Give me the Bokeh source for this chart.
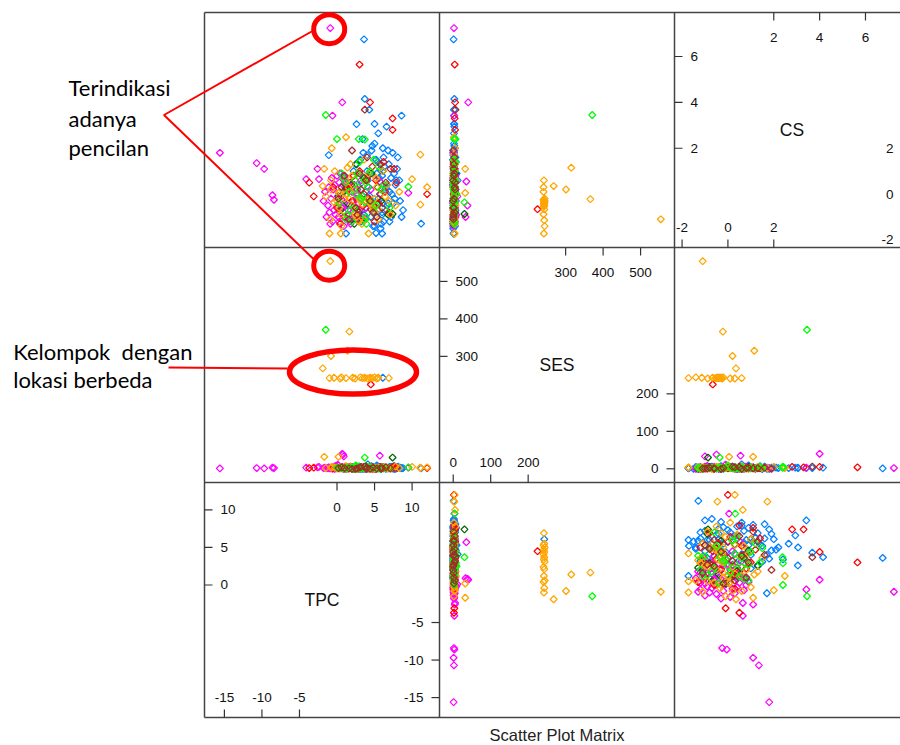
import numpy as np
from bokeh.plotting import figure
from bokeh.models import Range1d, ColumnDataSource
from bokeh.embed import file_html
from bokeh.resources import INLINE
from bokeh.core.properties import value

# ---------------- data ----------------
BLUE_TPC = [3.6, 3.7, 4.3, 8.6, 2.6, 5.0, 6.6, -1.1, 11.2, 6.0, 1.2, 5.2, 6.1, 5.5, 3.4,
            4.2, 5.1, 6.3, 7.0, 3.8, 5.6, 6.8, 8.1, 4.6, 2.9, 7.6, 5.9, 3.3, 6.1, 4.9,
            8.4, 2.2, 7.2, 5.4, 3.6, 6.6, 4.0, 1.5, 7.9, 5.0, 2.6, 6.9, 4.4, 3.1, 5.7,
            8.8, 0.8, 6.2, 4.7, 2.0, 7.4, 5.3, 3.9, 6.0, 1.1, 4.1, 7.7, 5.8, 2.4, 6.4,
            4.5, 5.2, 6.0, 6.7, 7.3, 8.0, 3.5, 4.8, 5.5, 6.2, 7.0, 7.8, 3.0, 4.0, 5.0,
            6.0, 7.5, 8.3, 2.5, 3.8, 4.6, 5.8, 6.8, 7.2, 4.3, 5.3, 6.5, 3.2, 8.6, 1.8]
BLUE_SES = [1, 3, 2, 2, 3, 2, 3, 3, 1, 2, 1, 2, 243, 2, 4,
            1, 3, 2, 5, 0, 4, 2, 6, 1, 3, 8, 2, 0, 4, 1,
            3, 2, 5, 7, 1, 3, 0, 2, 4, 1, 6, 2, 3, 0, 5,
            2, 1, 4, 3, 0, 2, 9, 1, 3, 2, 12, 0, 4, 1, 2,
            2, 0, 3, 1, 4, 2, 0, 5, 1, 3, 2, 0, 6, 1, 2,
            4, 0, 3, 1, 2, 7, 0, 3, 1, 2, 5, 0, 2, 1, 3]
BLUE_CS = [6.75, 4.15, 3.68, 3.42, 3.05, 3.06, 2.94, 1.7, -1.29, -1.72, -1.72, -1.7, -0.4, 2.65, 2.4,
           0.3, -0.8, 1.2, 0.1, -1.1, 0.7, -0.4, 1.6, 1.9, -0.2, 0.9, -1.3, 0.5, 2.0, -0.6,
           -0.3, 1.0, -1.0, 1.4, -0.9, 0.4, 1.7, -0.5, 0.6, -1.4, 0.2, 1.3, -0.1, 1.5, 0.0,
           -0.7, 0.8, -1.2, 2.1, -0.3, 1.8, 0.9, -0.6, -0.9, 0.4, 0.6, -0.2, 1.1, -1.1, 0.2,
           -1.0, 1.5, 0.8, -0.5, 0.0, 1.1, 1.8, -1.4, -0.2, 1.6, -1.2, 0.4, -0.7, 1.0, 2.2,
           -0.8, -0.4, 0.6, 1.3, 0.1, -0.3, -1.5, 1.9, 0.7, 0.9, -1.0, 0.3, -1.2, -1.0, 0.5]

MAG_TPC = [-0.9, 0.7, -0.6, -15.6, -10.7, -9.7, -8.6, -8.4, -2.6, -4.1, -2.4, 9.5, 5.7, 0.8, 0.9,
           -1.2, -0.5, 0.2, 0.8, 1.5, 2.1, 2.8, -0.9, 0.0, 0.6, 1.2, 1.9, 2.5, 3.2, -1.6,
           -0.2, 0.4, 1.0, 1.7, 2.3, 3.0, -0.7, 0.1, 0.9, 1.4, 2.0, -1.0, 0.3, 1.1, 2.6,
           -1.4, -0.8, -0.3, 0.3, 0.7, 1.3, 1.8, 2.4, 2.9, -1.1, -0.4, 0.5, 1.0, 1.6, 2.2,
           2.7, 3.4, -0.6, 0.0, 0.8, 1.5, 2.0, 3.8, 4.5, -1.8]
MAG_SES = [2, 40, 3, 1, 2, 1, 3, 2, 4, 3, 5, 3, 35, 38, 33,
           2, 4, 1, 3, 0, 5, 2, 1, 6, 3, 0, 2, 4, 1, 3,
           8, 2, 0, 5, 1, 3, 2, 11, 0, 4, 2, 1, 3, 6, 2,
           1, 3, 0, 2, 5, 1, 3, 0, 2, 4, 1, 2, 0, 3, 1,
           6, 2, 0, 4, 1, 2, 3, 0, 1, 2]
MAG_CS = [7.24, 4.0, 3.42, 1.8, 1.35, 1.1, -0.05, -0.25, 1.1, 0.65, 0.65, 0.05, 0.55, -0.5, -1.0,
          -0.5, 0.2, -1.0, -0.3, 0.5, -0.8, 0.0, -1.3, 0.8, -0.6, 0.3, -1.1, -0.2, 0.6, 0.1,
          -0.9, 0.9, -0.4, -1.2, 0.4, -0.7, 0.7, -0.1, -1.4, 0.2, -0.5, -0.8, 0.5, -1.0, 0.0,
          -1.0, -0.2, 0.4, -1.2, -0.6, 0.0, -1.3, 0.6, -0.4, 0.3, -0.7, -0.1, 0.7, -0.9, -0.3,
          0.2, -1.0, -1.2, -0.5, 0.4, -0.7, 0.1, -0.6, 0.2, -0.3]

DG_TPC = [7.4, 0.5, 1.9, 3.3, 4.6, 5.9, 2.6, 0.9, 6.8, 3.9, 1.4,
          1.1, 2.3, 3.6, 4.9, 6.1, 0.2, 2.9, 5.4]
DG_SES = [30, 3, 1, 2, 5, 0, 4, 2, 1, 6, 3,
          2, 0, 3, 1, 4, 2, 5, 1]
DG_CS = [-0.87, -0.7, 0.4, -1.1, 0.9, -0.3, 1.3, 0.1, -0.9, 0.6, -0.4,
         0.2, -1.3, 0.7, -0.5, 1.0, -0.1, -0.8, 0.3]

RED_TPC = [3.0, 4.4, 7.4, 7.4, -3.7, -3.1, 12.0, 4.5,
           -0.5, 1.0, 2.2, 3.5, 4.7, 5.8, 6.9, 0.4, 1.8, 3.0, 4.3, 5.2, 6.4, 2.7, 7.6,
           0.0, 1.5, 2.9, 4.0, 5.5, 6.2, 3.6, 2.0, 5.0, 7.9]
RED_SES = [4, 5, 4, 5, 2, 3, 2, 225,
           2, 4, 1, 3, 0, 5, 2, 1, 6, 3, 2, 0, 4, 1, 3,
           1, 3, 0, 2, 4, 1, 5, 2, 0, 3]
RED_CS = [5.65, 4.0, 3.3, 2.8, 0.5, -0.1, 0.0, -0.66,
          0.3, -1.0, 0.8, -0.5, 1.2, 0.0, -0.8, -1.3, 0.5, 1.0, -0.2, 0.6, 0.1, -0.7, 1.1,
          -0.6, 0.2, -1.1, 0.7, -0.4, 1.4, 0.0, -0.3, -1.2, 0.5]

ORG_TPC = [-0.9, 1.65, 1.4, -0.8, -1.9,
           -1.0, -0.4, 0.4, 0.6, 1.2, 2.1, 2.4, 3.1, 3.4, 3.7, 4.1, 4.4, 4.7, 5.0, 5.3, 5.5, 6.9,
           1.2, -0.7, 12.0, 11.1, 11.1, 10.0, 4.2, 0.5, 0.2, -1.7,
           -0.8, 0.5, 1.8, 3.0, 4.2, 5.5, 6.7, 7.8, 0.0, 2.4, 3.6, 4.9, 6.1, -1.5, 1.2, 2.9, 5.2, 8.3,
           0.3, 1.5, 2.6, 3.8, 4.6, 5.9, 7.1, -0.3, 2.0, 3.3, 6.4, 1.0]
ORG_SES = [554, 366, 315, 301, 268,
           242, 243, 241, 244, 242, 243, 241, 244, 242, 243, 241, 243, 242, 244, 241, 243, 242,
           2, 5, 4, 3, 2, 5, 3, 4, 32, 32,
           3, 1, 5, 2, 0, 4, 2, 6, 1, 3, 2, 0, 4, 2, 7, 1, 3, 2,
           2, 0, 3, 1, 4, 2, 0, 3, 1, 5, 2, 1]
ORG_CS = [-1.1, -0.22, 1.15, 0.2, 0.35,
          -1.72, -0.35, 0.1, -1.4, 0.6, -0.5, -0.88, -0.3, -0.45, -1.14, -0.25, -0.4, -0.55, -0.2, 0.3, -0.67, -0.3,
          2.48, 2.0, 0.3, -0.46, 1.72, 0.65, -1.72, -1.72, 0.05, 1.1,
          0.6, -0.9, 1.3, -0.2, 0.9, -1.1, 0.4, -0.5, -0.3, 0.2, 1.5, -0.7, 1.0, -0.1, 0.0, -1.2, 0.7, 0.1,
          -0.6, 0.3, -1.0, 0.5, -0.4, 0.2, -0.9, 1.0, 0.8, -1.3, -0.1, -0.2]

GRN_TPC = [-1.5, 3.7, 2.9, 0.0, 9.5, 3.7,
           0.3, 1.1, 2.0, 2.7, 3.4, 4.1, 4.8, 5.5, 1.6, 2.3, 3.0, 3.8, 0.8, 4.5, 5.9, 2.5, 1.3, 3.6,
           0.6, 1.8, 2.8, 3.9, 4.4, 5.2, 6.3, 1.2, 2.4, 3.2, 4.9, 7.0]
GRN_SES = [371, 4, 6, 3, 4, 30,
           2, 0, 4, 1, 3, 5, 2, 1, 3, 0, 6, 2, 1, 4, 2, 9, 3, 1,
           1, 3, 0, 2, 4, 1, 2, 0, 5, 1, 3, 2]
GRN_CS = [3.45, 2.38, 2.4, 2.4, 0.32, -0.36,
          -0.4, 0.5, -1.2, 0.9, -0.1, 0.3, -0.8, 1.2, 0.1, -0.6, 1.4, -1.0, 0.7, -0.3, 0.2, 0.0, -0.9, 0.6,
          0.9, -0.7, 0.3, -1.3, 1.0, -0.5, 0.4, -1.1, 0.6, -0.2, 1.5, -0.6]

BRN_TPC = [3.7, 1.0, 2.5, 4.0, 5.3, 6.5, 0.2, 3.2, 7.1, 4.8, 2.0,
           1.6, 3.0, 4.4, 5.8, 0.6, 2.7, 6.0, 3.9]
BRN_SES = [6, 2, 0, 3, 1, 4, 2, 5, 1, 3, 0,
           1, 3, 0, 2, 4, 1, 2, 0]
BRN_CS = [3.68, 0.8, -0.6, 1.6, -1.0, 0.5, -0.2, 0.2, 1.1, -0.8, 1.9,
          -1.1, 0.9, -0.3, 1.3, 0.3, -0.9, -0.6, 0.6]

GROUPS = [
    (BLUE_TPC, BLUE_SES, BLUE_CS, "#0080ff"),
    (MAG_TPC, MAG_SES, MAG_CS, "#ff00ff"),
    (DG_TPC, DG_SES, DG_CS, "#006400"),
    (RED_TPC, RED_SES, RED_CS, "#ff0000"),
    (ORG_TPC, ORG_SES, ORG_CS, "#ffa500"),
    (GRN_TPC, GRN_SES, GRN_CS, "#00ff00"),
    (BRN_TPC, BRN_SES, BRN_CS, "#a52a2a"),
]

VAR_RANGE = {"TPC": (-17.65, 13.65), "SES": (-36.6, 590.5), "CS": (-2.33, 7.92)}
TICKS_LOW = {"TPC": [-15, -10, -5], "SES": [0, 100, 200], "CS": [-2, 0, 2]}
TICKS_HIGH = {"TPC": [0, 5, 10], "SES": [300, 400, 500], "CS": [2, 4, 6]}
COL_VARS = ["TPC", "SES", "CS"]
ROW_VARS = ["CS", "SES", "TPC"]

# ---------------- layout (page pixel coordinates) ----------------
CX = [204, 439, 674, 909]
RY = [12, 247, 482, 717]
PX0, PX1, PY0, PY1 = 0, 900, 0, 745

p = figure(width=PX1 - PX0, height=PY1 - PY0, output_backend="svg", toolbar_location=None,
           x_range=Range1d(PX0, PX1), y_range=Range1d(PY1, PY0),
           x_axis_location=None, y_axis_location=None, min_border=0,
           outline_line_color=None, background_fill_color="white", border_fill_color="white")
p.grid.visible = False

xr = {}
for c, v in enumerate(COL_VARS):
    lo, hi = VAR_RANGE[v]
    k = (hi - lo) / (CX[c + 1] - CX[c])
    xr[f"x{c}"] = Range1d(lo - (CX[c] - PX0) * k, hi + (PX1 - CX[c + 1]) * k)
yr = {}
for r, v in enumerate(ROW_VARS):
    lo, hi = VAR_RANGE[v]
    k = (hi - lo) / (RY[r + 1] - RY[r])
    yr[f"y{r}"] = Range1d(lo - (PY1 - RY[r + 1]) * k, hi + (RY[r] - PY0) * k)
p.extra_x_ranges = xr
p.extra_y_ranges = yr

# points
for tpc, ses, cs, col in GROUPS:
    assert len(tpc) == len(ses) == len(cs)
    src = ColumnDataSource(dict(TPC=tpc, SES=ses, CS=cs))
    for r in range(3):
        for c in range(3):
            if ROW_VARS[r] == COL_VARS[c]:
                continue
            p.scatter(x=COL_VARS[c], y=ROW_VARS[r], source=src, marker="square",
                      angle=np.pi / 4, size=4.9, fill_color=None, line_color=col,
                      line_width=1.25, x_range_name=f"x{c}", y_range_name=f"y{r}")

# panel borders
BORDER = "#444444"
p.segment(x0=CX, y0=[RY[0]] * 4, x1=CX, y1=[RY[3]] * 4, line_color=BORDER, line_width=1.5)
p.segment(x0=[CX[0]] * 4, y0=RY, x1=[CX[3]] * 4, y1=RY, line_color=BORDER, line_width=1.5)

TICK_FONT = value("Liberation Sans")
TICK_SIZE = value("13.5px")
TL = 8
for i, v in enumerate(COL_VARS):
    r = ROW_VARS.index(v)
    L, R = CX[i], CX[i + 1]
    T, B = RY[r], RY[r + 1]
    hi_t, lo_t = TICKS_HIGH[v], TICKS_LOW[v]
    nh, nl = len(hi_t), len(lo_t)
    xn, yn = f"x{i}", f"y{r}"
    # top
    p.segment(x0=hi_t, x1=hi_t, y0=[T] * nh, y1=[T + TL] * nh, x_range_name=xn,
              line_color="#333333", line_width=1.2)
    p.text(x=hi_t, y=[T + 25] * nh, text=[str(t) for t in hi_t], x_range_name=xn,
           text_align="center", text_baseline="middle", text_font=TICK_FONT,
           text_font_size=TICK_SIZE, text_color="#111111")
    # bottom
    p.segment(x0=lo_t, x1=lo_t, y0=[B - TL] * nl, y1=[B] * nl, x_range_name=xn,
              line_color="#333333", line_width=1.2)
    p.text(x=lo_t, y=[B - 20] * nl, text=[str(t) for t in lo_t], x_range_name=xn,
           text_align="center", text_baseline="middle", text_font=TICK_FONT,
           text_font_size=TICK_SIZE, text_color="#111111")
    # left
    p.segment(x0=[L] * nh, x1=[L + TL] * nh, y0=hi_t, y1=hi_t, y_range_name=yn,
              line_color="#333333", line_width=1.2)
    p.text(x=[L + 16] * nh, y=hi_t, text=[str(t) for t in hi_t], y_range_name=yn,
           text_align="left", text_baseline="middle", text_font=TICK_FONT,
           text_font_size=TICK_SIZE, text_color="#111111")
    # right
    p.segment(x0=[R - TL] * nl, x1=[R] * nl, y0=lo_t, y1=lo_t, y_range_name=yn,
              line_color="#333333", line_width=1.2)
    p.text(x=[R - 16] * nl, y=lo_t, text=[str(t) for t in lo_t], y_range_name=yn,
           text_align="right", text_baseline="middle", text_font=TICK_FONT,
           text_font_size=TICK_SIZE, text_color="#111111")
    # variable name
    p.text(x=[(L + R) / 2], y=[(T + B) / 2], text=[v], text_align="center",
           text_baseline="middle", text_font=TICK_FONT, text_font_size=value("17.5px"),
           text_color="#111111")

# title below
p.text(x=[(CX[0] + CX[3]) / 2], y=[734], text=["Scatter Plot Matrix"], text_align="center",
       text_baseline="middle", text_font=TICK_FONT, text_font_size=value("16.5px"),
       text_color="#222222")

# annotations
RED = "#ff0000"
p.line(x=[312, 163.5, 313], y=[30.5, 114.5, 258.5], line_color=RED, line_width=2)
p.ellipse(x=[328.7, 328.7], y=[28.7, 265.2], width=[31, 31], height=[29, 29],
          width_units="screen", height_units="screen",
          fill_color=None, line_color=RED, line_width=5)
p.ellipse(x=[352.5], y=[371.5], width=[127], height=[44],
          width_units="screen", height_units="screen",
          fill_color=None, line_color=RED, line_width=5.5)
p.segment(x0=[168], y0=[367], x1=[287], y1=[368], line_color=RED, line_width=2)

ANN_FONT = value("Lato")
p.text(x=[68, 68, 68], y=[87.3, 117.8, 146.7], text=["Terindikasi", "adanya", "pencilan"],
       text_align="left", text_baseline="alphabetic", text_font=ANN_FONT,
       text_font_size=value("22px"), text_color="#000000")
p.text(x=[12.7, 12.7], y=[351, 379.3], text=["Kelompok\u00a0 dengan", "lokasi berbeda"],
       text_align="left", text_baseline="alphabetic", text_font=ANN_FONT,
       text_font_size=value("22px"), text_color="#000000")

open("out.html", "w").write(file_html(p, INLINE))
